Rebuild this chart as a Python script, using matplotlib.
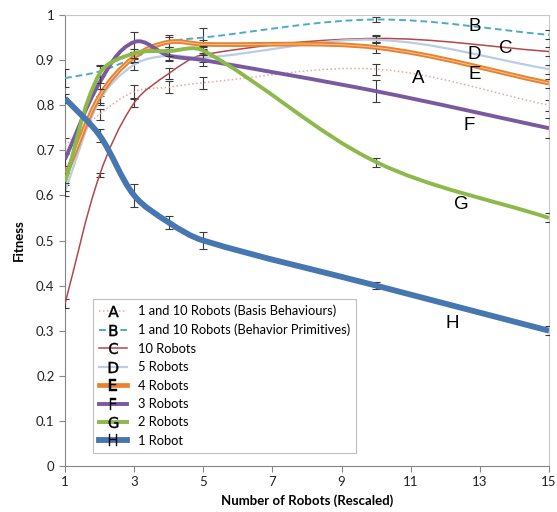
import numpy as np
import matplotlib.pyplot as plt
from matplotlib.path import Path
from matplotlib.patches import PathPatch
from matplotlib.lines import Line2D

# =====================================
# DATA
# =====================================

robots = [1, 2, 3, 4, 5, 10, 15]

fit_a = [0.71, 0.78, 0.83, 0.84, 0.85, 0.88, 0.80]
fit_b = [0.86, 0.875, 0.905, 0.94, 0.95, 0.99, 0.956]
fit_c = [0.36, 0.645, 0.805, 0.87, 0.912, 0.948, 0.919]
fit_d = [0.61, 0.81, 0.89, 0.91, 0.905, 0.945, 0.88]
fit_e = [0.64, 0.82, 0.907, 0.94, 0.935, 0.928, 0.849]
fit_f = [0.68, 0.85, 0.94, 0.91, 0.90, 0.831, 0.749]
fit_g = [0.63, 0.87, 0.915, 0.92, 0.921, 0.674, 0.55]
fit_h = [0.815, 0.733, 0.60, 0.54, 0.50, 0.40, 0.30]

err_a = [0.018, 0.012, 0.014, 0.013, 0.013, 0.012, 0.012]
err_b = [0.02, 0.012, 0.012, 0.012, 0.022, 0.006, 0.01]
err_c = [0.01, 0.005, 0.008, 0.012, 0.01, 0.007, 0.01]
err_d = [0.012, 0.01, 0.012, 0.01, 0.01, 0.008, 0.01]
err_e = [0.012, 0.015, 0.012, 0.015, 0.01, 0.012, 0.01]
err_f = [0.015, 0.015, 0.022, 0.012, 0.012, 0.025, 0.022]
err_g = [0.02, 0.02, 0.01, 0.01, 0.01, 0.01, 0.01]
err_h = [0.01, 0.015, 0.025, 0.015, 0.018, 0.008, 0.01]

letters = ["A", "B", "C", "D", "E", "F", "G", "H"]
names = ["1 and 10 Robots (Basis Behaviours)",
         "1 and 10 Robots (Behavior Primitives)",
         "10 Robots", "5 Robots", "4 Robots", "3 Robots", "2 Robots", "1 Robot"]

letter_x = [11.21, 12.85, 13.75, 12.85, 12.85, 12.70, 12.47, 12.19]
letter_y = [0.86, 0.975, 0.926, 0.913, 0.868, 0.754, 0.579, 0.317]

# =====================================
# STYLE
# =====================================

colors = ["#E8A5A3", "#4BACC6", "#B5474A", "#B9CDE5", "#E8822E",
          "#7A5A9E", "#8DB84A", "#4677B0"]
widths = [1.1, 1.4, 1.1, 1.6, 3.4, 2.8, 2.8, 4.2]
styles = [(0, (1, 1.6)), (0, (3.5, 2)), "-", "-", "-", "-", "-", "-"]

all_fit = [fit_a, fit_b, fit_c, fit_d, fit_e, fit_f, fit_g, fit_h]
all_err = [err_a, err_b, err_c, err_d, err_e, err_f, err_g, err_h]

# rough pixel size of one data unit, so the smoothing works in screen space
SX, SY = 34.6, 451.0


def smooth_path(xs, ys):
    # smoothed line like Excel: bezier through every point,
    # handle length = 1/3 of the segment, direction from the neighbours
    pts = np.column_stack([np.array(xs) * SX, np.array(ys) * SY])
    n = len(pts)
    tang = []
    for i in range(n):
        d = pts[min(i + 1, n - 1)] - pts[max(i - 1, 0)]
        tang.append(d / np.hypot(*d))
    verts = [pts[0]]
    codes = [Path.MOVETO]
    for i in range(n - 1):
        L = np.hypot(*(pts[i + 1] - pts[i]))
        c1 = pts[i] + tang[i] * L / 3.0
        c2 = pts[i + 1] - tang[i + 1] * L / 3.0
        verts += [c1, c2, pts[i + 1]]
        codes += [Path.CURVE4] * 3
    verts = np.array(verts) / [SX, SY]
    return Path(verts, codes)


plt.rcParams['font.family'] = ['Lato', 'DejaVu Sans']

fig = plt.figure(figsize=(5.57, 5.12), dpi=100)
ax = fig.add_axes([0.1167, 0.0898, 0.869, 0.8809])

for k in range(8):
    ax.errorbar(robots, all_fit[k], yerr=all_err[k], fmt="none",
                ecolor="#3a3a3a", elinewidth=0.8, capsize=3,
                capthick=0.8, zorder=2 + k * 2)
    patch = PathPatch(smooth_path(robots, all_fit[k]), facecolor="none",
                      edgecolor=colors[k], lw=widths[k],
                      linestyle=styles[k], zorder=3 + k * 2,
                      capstyle="butt")
    ax.add_patch(patch)
    if letters[k] == "E":
        ax.add_patch(PathPatch(smooth_path(robots, all_fit[k]),
                               facecolor="none", edgecolor="#F7C49A",
                               lw=0.7, zorder=3 + k * 2))
    ax.text(letter_x[k], letter_y[k], letters[k], fontsize=13.5,
            family="Liberation Sans", ha="center", va="center",
            color="black", zorder=30)

ax.set_xlim(1, 15)
ax.set_ylim(0, 1)
ax.set_xticks(np.arange(1, 16, 2))
ax.set_yticks(np.arange(0, 1.01, 0.1))
ax.set_yticklabels(["%g" % round(v, 1) for v in np.arange(0, 1.01, 0.1)])
ax.tick_params(labelsize=9.5, colors="#222222", length=4, width=0.8)
ax.tick_params(axis="x", color="#868686")
ax.tick_params(axis="y", color="#868686")

for side in ["top", "right"]:
    ax.spines[side].set_color("#C8C8C8")
for side in ["left", "bottom"]:
    ax.spines[side].set_color("#868686")

ax.set_xlabel("Number of Robots (Rescaled)", fontsize=9.5,
              fontweight="bold", labelpad=4)
ax.set_ylabel("Fitness", fontsize=9.5, fontweight="bold", labelpad=8)

handles = []
for k in range(8):
    handles.append(Line2D([0], [0], color=colors[k], lw=widths[k],
                          linestyle=styles[k],
                          marker="$\\mathsf{%s}$" % letters[k],
                          markersize=8, markerfacecolor="black",
                          markeredgecolor="black", markeredgewidth=0.3))

leg = ax.legend(handles, names, loc="upper left",
                bbox_to_anchor=(0.045, 0.385), fontsize=9.3,
                frameon=True, fancybox=False, edgecolor="#BFBFBF",
                handlelength=2.2, labelspacing=0.5, borderpad=0.45,
                handletextpad=0.8, framealpha=1)
leg.get_frame().set_linewidth(0.8)

plt.savefig("out.png", dpi=100)
